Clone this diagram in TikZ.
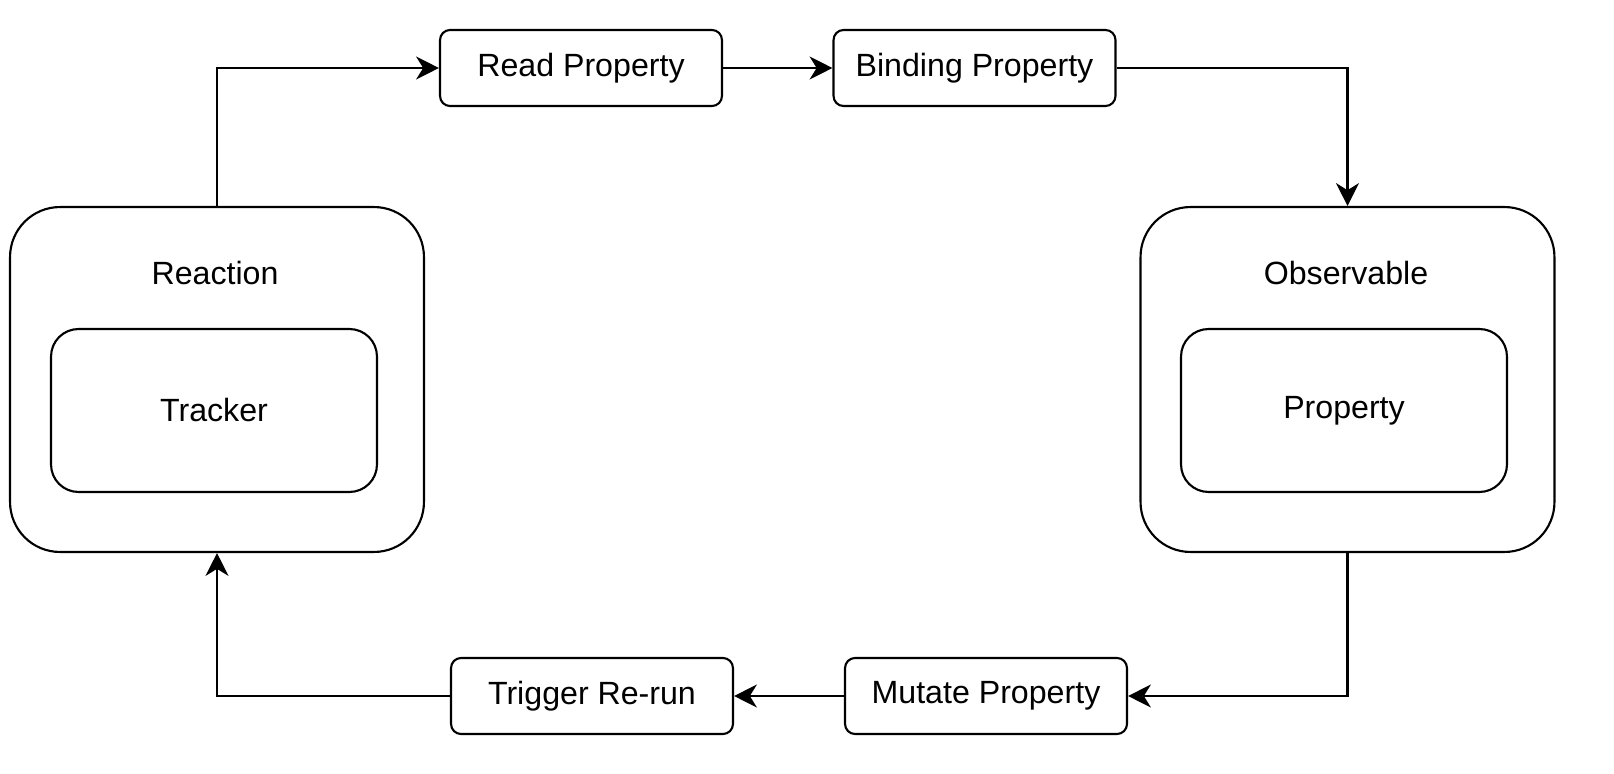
\documentclass[tikz,border=0pt]{standalone}
\usepackage{fontspec}
\setmainfont{Liberation Sans}
\usetikzlibrary{arrows.meta}
\tikzset{
  stepbox/.style={draw, line width=1.2pt, rounded corners=0.2cm, minimum width=5.64cm, minimum height=1.52cm, inner sep=0pt},
  outerbox/.style={draw, line width=1.2pt, rounded corners=1cm, minimum width=8.28cm, minimum height=6.9cm, inner sep=0pt},
  innerbox/.style={draw, line width=1.2pt, rounded corners=0.55cm, minimum width=6.52cm, minimum height=3.26cm, inner sep=0pt},
  flow/.style={line width=1.2pt, -{Stealth[length=13pt, width=13pt, inset=4pt]}}
}
\begin{document}
\begin{tikzpicture}[x=0.02cm, y=-0.02cm, font=\fontsize{18.3}{22}\selectfont]
  \useasboundingbox (0,0) rectangle (1614,774);

  \node [outerbox] (reaction) at (217,379.5) {};
  \node [outerbox] (observable) at (1347.5,379.5) {};
  \node (reactionlabel) at (215,273) {Reaction};
  \node (observablelabel) at (1346,273) {Observable};
  \node [innerbox] (tracker) at (214,410.5) {Tracker};
  \node [innerbox] (property) at (1344,410.5) {Property};

  \foreach \name/\x/\y/\txt in {read/581/68/Read Property, binding/974.5/68/Binding Property,
    trigger/592/696/Trigger Re-run, mutate/986/696/Mutate Property}
  \node [stepbox] (\name) at (\x,\y) {\txt};

  \draw [flow] (reaction.north) |- (read.west);
  \draw [flow] (read) -- (binding);
  \draw [flow] (binding.east) -| (observable.north);
  \draw [flow] (observable.south) |- (mutate.east);
  \draw [flow] (mutate) -- (trigger);
  \draw [flow] (trigger.west) -| (reaction.south);

\end{tikzpicture}
\end{document}
